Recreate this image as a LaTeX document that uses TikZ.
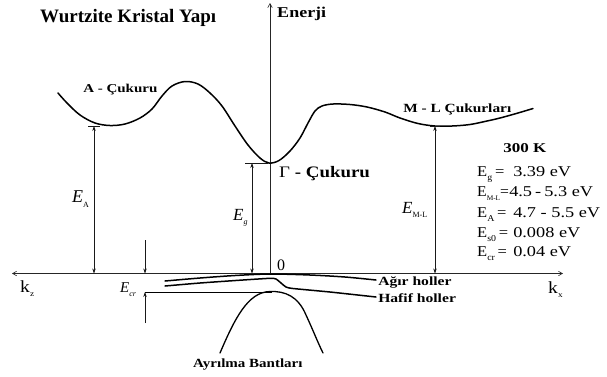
\documentclass[tikz,border=0pt]{standalone}
\usepackage{fontspec}
\setmainfont{Liberation Serif}
\usetikzlibrary{arrows.meta}
\newcommand{\mysub}[2][8]{\raisebox{-0.28em}{\fontsize{#1}{#1}\selectfont #2}}
\tikzset{
  band/.style={line width=1.5pt, line cap=round, line join=round},
  dimline/.style={line width=0.6pt, black!90},
  tipe/.style={-{Stealth[length=5pt,width=3.4pt]}},
  tips/.style={{Stealth[length=5pt,width=3.4pt]}-{Stealth[length=5pt,width=3.4pt]}},
  axis/.style={line width=0.6pt, black!85},
  txt/.style={inner sep=0pt, anchor=base west},
  blbl/.style={txt, font=\bfseries\fontsize{12}{14}\selectfont},
  val/.style={txt, xscale=1.22, font=\fontsize{15}{17}\selectfont},
  vlab/.style={txt, xscale=1.1, font=\fontsize{15}{17}\selectfont},
  elbl/.style={txt, font=\fontsize{17}{19}\selectfont\itshape},
}
\begin{document}
\begin{tikzpicture}[x=1pt,y=-1pt]
\useasboundingbox (0,0) rectangle (607,376);

% axes
\coordinate (ol) at (12,273.5);
\coordinate (or) at (563,273.5);
\coordinate (ob) at (270,273.5);
\coordinate (ot) at (270,3);
\draw[axis,{Straight Barb[length=4pt,width=4.5pt]}-{Straight Barb[length=4pt,width=4.5pt]}] (ol) -- (or);
\draw[axis,-{Straight Barb[length=4pt,width=4.5pt]}] (ob) -- (ot);

% conduction band
\draw[band] plot[smooth, tension=0.55] coordinates {
 (58,93) (67,103) (80,115) (95,123) (110,125.5) (125,124) (140,118) (152,109)
 (162,96) (172,86) (185,81.5) (198,84) (210,93) (222,106) (235,126)
 (248,145) (260,158) (269,163) (279,160.5) (290,151) (300,138) (308,123)
 (315,111) (322,106) (333,104) (350,104.5) (367,107) (385,112) (400,118)
 (418,123.5) (435,126) (452,126) (470,124.5) (487,121) (500,118) (518,113) (533,108.5)};

% valence bands
\draw[band] plot[smooth, tension=0.5] coordinates {
 (165,281) (200,278) (235,275.5) (270,274) (310,275) (345,277) (376,280)};
\draw[band] plot[smooth, tension=0.35] coordinates {
 (165,286) (200,283) (240,280.2) (270,278.3) (276,279) (281,283) (286,287)
 (293,288.5) (330,292) (376,297)};
\draw[band, line width=1.3pt] (220,353) .. controls (235,318) and (248,292) .. (270,291.5)
  .. controls (285,291) and (298,296) .. (306,315) .. controls (313,330) and (318,343) .. (323,353);

% E_A
\coordinate (eat) at (94,126);
\coordinate (eab) at (94,273.5);
\draw[dimline] (88,126) -- (100,126);
\draw[dimline,tips] (eat) -- (eab);
% E_g
\coordinate (egt) at (252,163);
\coordinate (egb) at (252,273.5);
\draw[dimline] (245,163) -- (268,163);
\draw[dimline,tips] (egt) -- (egb);
% E_ML
\coordinate (emt) at (435,126);
\coordinate (emb) at (435,273.5);
\draw[dimline] (430,126) -- (440,126);
\draw[dimline,tips] (emt) -- (emb);
% E_cr
\coordinate (ect) at (145,240);
\coordinate (ecb) at (145,323);
\coordinate (ec1) at (145,273.5);
\coordinate (ec2) at (145,292);
\coordinate (sotop) at (272,292);
\draw[line width=0.8pt, black] (ec2) -- (sotop);
\draw[dimline,tipe] (ect) -- (ec1);
\draw[dimline,tipe] (ecb) -- (ec2);

% texts
\node[txt, font=\bfseries\fontsize{19}{21}\selectfont] (title) at (40,22) {Wurtzite Kristal Yapı};
\node[txt, xscale=1.2, font=\bfseries\fontsize{15}{17}\selectfont] (en) at (277,17) {Enerji};
\node[blbl, xscale=1.25] (ac) at (83,92) {A - Çukuru};
\node[blbl, xscale=1.23, font=\bfseries\fontsize{12.5}{14}\selectfont] (ml) at (403,112) {M - L Çukurları};
\node[txt, xscale=1.18, font=\fontsize{16}{18}\selectfont] (gc) at (279,177) {Γ\textbf{ - Çukuru}};
\node[txt, xscale=1.26, font=\bfseries\fontsize{13.5}{15}\selectfont] (k300) at (503,152) {300 K};

\node[vlab] (l1) at (477,176) {E\mysub[9]{g}\,=};
\node[val] (v1) at (513,176) {3.39 eV};
\node[vlab, xscale=0.95] (l2) at (477,196) {E\mysub[7]{M-L}=};
\node[val] (v2) at (509,196) {4.5\,-\,5.3 eV};
\node[vlab] (l3) at (477,217) {E\mysub[9]{A}\,=};
\node[val] (v3) at (513,217) {4.7 - 5.5 eV};
\node[vlab] (l4) at (477,237) {E\mysub[9]{s0}\,=};
\node[val] (v4) at (513,237) {0.008 eV};
\node[vlab] (l5) at (477,256) {E\mysub[9]{cr}\,=};
\node[val] (v5) at (513,256) {0.04 eV};

\node[elbl, font=\fontsize{18}{20}\selectfont\itshape] (ea) at (72,202) {E\mysub[8]{\upshape A}};
\node[elbl] (eg) at (233,220) {E\mysub[8]{g}};
\node[elbl] (em) at (402,213) {E\mysub[8]{\upshape M-L}};
\node[elbl, font=\fontsize{15}{17}\selectfont\itshape] (ec) at (120,292) {E\mysub[8]{cr}};

\node[txt, font=\fontsize{16}{18}\selectfont] (zero) at (277,270) {0};
\node[txt, xscale=1.15, font=\fontsize{17}{19}\selectfont] (kz) at (20,292) {k\mysub[8]{z}};
\node[txt, xscale=1.15, font=\fontsize{17}{19}\selectfont] (kx) at (548,293) {k\mysub[8]{x}};

\node[blbl, xscale=1.25, font=\bfseries\fontsize{12.5}{14}\selectfont] (ah) at (378,285) {Ağır holler};
\node[blbl, xscale=1.25, font=\bfseries\fontsize{12.5}{14}\selectfont] (hh) at (378,302) {Hafif holler};
\node[blbl, xscale=1.2, font=\bfseries\fontsize{12.5}{14}\selectfont] (ab) at (193,367) {Ayrılma Bantları};
\end{tikzpicture}
\end{document}
